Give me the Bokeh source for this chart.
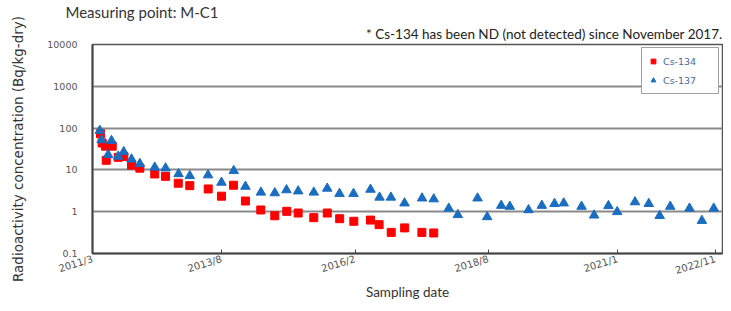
import datetime as dt
from bokeh.plotting import figure
from bokeh.models import Range1d, FixedTicker, Title, ColumnDataSource, CustomJSTickFormatter
from bokeh.embed import file_html
from bokeh.resources import INLINE

ORIGIN = "2011-03-01"
AXIS_END = "2022-12-21"

cs134_dates = ["2011-04-25", "2011-05-06", "2011-05-29", "2011-06-03", "2011-07-14",
               "2011-08-24", "2011-10-01", "2011-11-23", "2012-01-19", "2012-04-30",
               "2012-07-13", "2012-10-08", "2012-12-26", "2013-05-01", "2013-07-31",
               "2013-10-21", "2014-01-11", "2014-04-26", "2014-07-31", "2014-10-21",
               "2015-01-07", "2015-04-24", "2015-07-25", "2015-10-18", "2016-01-23",
               "2016-05-16", "2016-07-14", "2016-10-05", "2017-01-05", "2017-05-03",
               "2017-07-23"]
cs134_values = [73, 44, 37, 17, 37, 20, 21, 13, 11, 8, 7, 4.8, 4.2, 3.5, 2.35,
                4.3, 1.8, 1.1, 0.8, 1.02, 0.93, 0.72, 0.93, 0.68, 0.59,
                0.63, 0.49, 0.32, 0.41, 0.32, 0.31]

cs137_dates = ["2011-04-20", "2011-05-02", "2011-06-16", "2011-07-09", "2011-08-24",
               "2011-10-01", "2011-11-23", "2012-01-19", "2012-04-30", "2012-07-13",
               "2012-10-10", "2012-12-26", "2013-04-30", "2013-07-31", "2013-10-23",
               "2014-01-11", "2014-04-27", "2014-07-31", "2014-10-19", "2015-01-07",
               "2015-04-24", "2015-07-25", "2015-10-17", "2016-01-21", "2016-05-16",
               "2016-07-17", "2016-10-03", "2017-01-04", "2017-05-04", "2017-07-23",
               "2017-11-03", "2018-01-04", "2018-05-19", "2018-07-24", "2018-10-28",
               "2018-12-26", "2019-05-03", "2019-08-02", "2019-10-28", "2019-12-30",
               "2020-04-30", "2020-07-25", "2020-10-31", "2020-12-30", "2021-05-01",
               "2021-08-03", "2021-10-17", "2021-12-28", "2022-05-09", "2022-08-02",
               "2022-10-22"]
cs137_values = [87, 52, 23, 50, 21, 27, 18, 14, 11.5, 11, 8, 7.2, 7.5, 5, 9.5,
                4, 2.9, 2.8, 3.3, 3.1, 2.9, 3.6, 2.7, 2.7, 3.4, 2.2, 2.2, 1.6, 2.1, 2.0,
                1.2, 0.84, 2.1, 0.75, 1.4, 1.33, 1.1, 1.4, 1.55, 1.6,
                1.33, 0.82, 1.38, 0.99, 1.7, 1.55, 0.8, 1.33, 1.2, 0.61, 1.2]

tick_dates = ["2011-03-01", "2013-08-01", "2016-02-01", "2018-08-01", "2021-01-01", "2022-11-01"]
tick_labels = ["2011/3", "2013/8", "2016/2", "2018/8", "2021/1", "2022/11"]
y_ticks = [0.1, 1, 10, 100, 1000, 10000]


def days(s):
    return (dt.date.fromisoformat(s) - dt.date.fromisoformat(ORIGIN)).days


src134 = ColumnDataSource(dict(x=[days(d) for d in cs134_dates], y=cs134_values))
src137 = ColumnDataSource(dict(x=[days(d) for d in cs137_dates], y=cs137_values))

point_title = Title(text="Measuring point: M-C1", align="left", offset=-27, standoff=1,
                    text_font="Lato", text_font_size="15px", text_font_style="normal",
                    text_color="#333333")

p = figure(width=723, height=303, y_axis_type="log", title=point_title,
           x_range=Range1d(0, days(AXIS_END)), y_range=Range1d(0.1, 10000),
           output_backend="svg", toolbar_location=None,
           min_border_left=92, min_border_right=1, min_border_top=44, min_border_bottom=50)

p.add_layout(Title(text="* Cs-134 has been ND (not detected) since November 2017.",
                   align="right", offset=0, standoff=5, text_font="Lato",
                   text_font_size="13.5px", text_font_style="normal",
                   text_color="#222222"), "above")

p.scatter("x", "y", source=src134, marker="square", size=8, color="#ff0000",
          legend_label="Cs-134")
p.scatter("x", "y", source=src137, marker="triangle", size=9.5, color="#1a6dc0",
          legend_label="Cs-137")

# grid / frame
p.xgrid.visible = False
p.ygrid.grid_line_color = "#8a8a8a"
p.ygrid.grid_line_width = 2
p.ygrid.ticker = FixedTicker(ticks=y_ticks)
p.outline_line_color = "#555555"
p.outline_line_width = 1.5

# y axis
p.yaxis.ticker = FixedTicker(ticks=y_ticks)
p.yaxis.formatter = CustomJSTickFormatter(code="return tick.toString();")
p.yaxis.axis_label = "Radioactivity concentration (Bq/kg-dry)"
p.yaxis.axis_label_text_font = "DejaVu Sans"
p.yaxis.axis_label_text_font_size = "13.5px"
p.yaxis.axis_label_text_font_style = "normal"
p.yaxis.axis_label_text_color = "#333333"
p.yaxis.axis_label_standoff = 18
p.yaxis.major_label_text_font = "DejaVu Sans"
p.yaxis.major_label_text_font_size = "9.5px"
p.yaxis.major_label_text_color = "#555555"
p.yaxis.major_label_standoff = 9
p.yaxis.major_tick_line_color = None
p.yaxis.minor_tick_line_color = None
p.yaxis.axis_line_color = "#444444"
p.yaxis.axis_line_width = 2

# x axis
p.xaxis.ticker = FixedTicker(ticks=[days(d) for d in tick_dates])
p.xaxis.major_label_overrides = {days(d): lab for d, lab in zip(tick_dates, tick_labels)}
p.xaxis.major_label_orientation = 0.3
p.xaxis.major_label_text_font = "DejaVu Sans"
p.xaxis.major_label_text_font_size = "10px"
p.xaxis.major_label_text_color = "#555555"
p.xaxis.major_label_standoff = 5
p.xaxis.major_tick_in = 4
p.xaxis.major_tick_out = 0
p.xaxis.major_tick_line_color = "#444444"
p.xaxis.minor_tick_line_color = None
p.xaxis.axis_line_color = "#444444"
p.xaxis.axis_line_width = 2
p.xaxis.axis_label = "Sampling date"
p.xaxis.axis_label_text_font = "Lato"
p.xaxis.axis_label_text_font_size = "13.5px"
p.xaxis.axis_label_text_font_style = "normal"
p.xaxis.axis_label_text_color = "#333333"
p.xaxis.axis_label_standoff = 0

# legend
p.legend.location = "top_right"
p.legend.margin = 3
p.legend.padding = 5
p.legend.spacing = 3
p.legend.label_text_font = "DejaVu Sans"
p.legend.label_text_font_size = "9.5px"
p.legend.label_text_color = "#4a6a9a"
p.legend.glyph_width = 12
p.legend.glyph_height = 16
p.legend.label_height = 16
p.legend.label_width = 50
p.legend.label_standoff = 4
p.legend.border_line_color = "#444444"
p.legend.border_line_width = 1.5
p.legend.background_fill_alpha = 1.0

open("out.html", "w").write(file_html(p, INLINE))
